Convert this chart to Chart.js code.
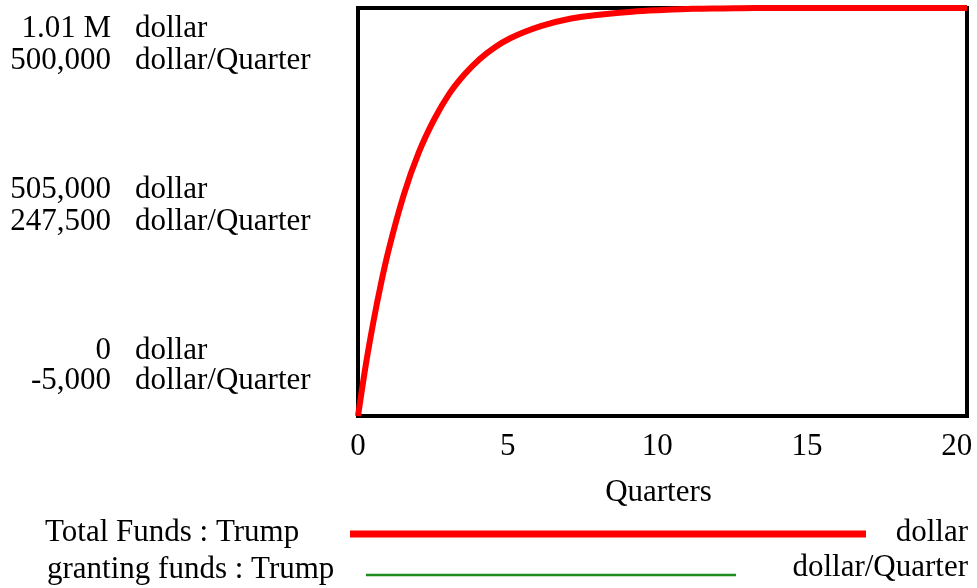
<!DOCTYPE html>
<html>
<head>
<meta charset="utf-8">
<script src="https://cdn.jsdelivr.net/npm/chart.js@4.4.1/dist/chart.umd.min.js"></script>
<style>
  html, body { margin: 0; padding: 0; background: #ffffff; }
  #wrap { position: relative; width: 977px; height: 588px; }
  canvas { display: block; }
</style>
</head>
<body>
<div id="wrap"><canvas id="c" width="977" height="588"></canvas></div>
<script>
// ---- data ----
const quarters = [0, 0.25, 0.5, 0.75, 1, 1.5, 2, 2.5, 3, 3.5, 4, 4.5, 5, 6, 7, 8, 9, 10, 11, 12, 13, 14, 15, 16, 17, 18, 19, 20];
const totalFunds = [0, 124000, 231000, 326000, 409000, 547000, 653000, 734000, 798000, 846000, 884000, 913000, 935000, 965000, 984000, 994000, 1001000, 1005000, 1008000, 1009000, 1010000, 1010000, 1010000, 1010000, 1010000, 1010000, 1010000, 1010000];
const grantingFunds = []; // not visible within the plotted range

const xTickValues = [0, 5, 10, 15, 20];
const dollarTickValues = [1010000, 505000, 0];
const dollarTickLabels = ["1.01 M", "505,000", "0"];
const rateTickValues = [500000, 247500, -5000];
const rateTickLabels = ["500,000", "247,500", "-5,000"];
const seriesNames = ["Total Funds : Trump", "granting funds : Trump"];
const seriesUnits = ["dollar", "dollar/Quarter"];
const xTitle = "Quarters";

const FONT = '"Liberation Serif", "Times New Roman", serif';

const frame = {
  id: 'frame',
  beforeDatasetsDraw(chart) {
    const { ctx, chartArea: a } = chart;
    ctx.save();
    ctx.strokeStyle = '#000';
    ctx.lineWidth = 4;
    ctx.strokeRect(a.left, a.top, a.right - a.left, a.bottom - a.top);
    ctx.restore();
  },
  afterDraw(chart) {
    const { ctx, chartArea: a } = chart;
    const xs = chart.scales.x, yd = chart.scales.y, yr = chart.scales.y2;
    ctx.save();
    ctx.fillStyle = '#000';
    ctx.font = '31px ' + FONT;
    ctx.textBaseline = 'middle';
    // left labels
    const offs = [[21, 53], [-22, 10], [-65, -35]];
    for (let i = 0; i < dollarTickValues.length; i++) {
      const p1 = yd.getPixelForValue(dollarTickValues[i]);
      const p2 = yr.getPixelForValue(rateTickValues[i]);
      ctx.textAlign = 'right';
      ctx.fillText(dollarTickLabels[i], 111, p1 + offs[i][0]);
      ctx.fillText(rateTickLabels[i], 111, p2 + offs[i][1]);
      ctx.textAlign = 'left';
      ctx.fillText(seriesUnits[0], 135, p1 + offs[i][0]);
      ctx.fillText(seriesUnits[1], 135, p2 + offs[i][1]);
    }
    // x ticks
    ctx.textAlign = 'center';
    xTickValues.forEach(v => {
      const px = xs.getPixelForValue(v);
      ctx.fillText(String(v), a.left + (px - a.left) * 0.983, a.bottom + 31);
    });
    ctx.fillText(xTitle, (a.left + a.right) / 2 - 4, a.bottom + 77);
    // legend
    ctx.textAlign = 'left';
    ctx.fillText(seriesNames[0], 45, 533);
    ctx.fillText(seriesNames[1], 47, 570);
    ctx.textAlign = 'right';
    ctx.fillText(seriesUnits[0], 968, 533);
    ctx.fillText(seriesUnits[1], 968, 568);
    ctx.strokeStyle = '#ff0000';
    ctx.lineWidth = 7;
    ctx.beginPath(); ctx.moveTo(350, 534); ctx.lineTo(866, 534); ctx.stroke();
    ctx.strokeStyle = '#1e8c1e';
    ctx.lineWidth = 2.5;
    ctx.beginPath(); ctx.moveTo(366, 575); ctx.lineTo(736, 575); ctx.stroke();
    ctx.restore();
  }
};

new Chart(document.getElementById('c'), {
  type: 'line',
  data: {
    datasets: [
      {
        label: seriesNames[0],
        data: quarters.map((q, i) => ({ x: q, y: totalFunds[i] })),
        borderColor: '#ff0000',
        borderWidth: 6,
        pointRadius: 0,
        cubicInterpolationMode: 'monotone',
        yAxisID: 'y',
        clip: false
      },
      {
        label: seriesNames[1],
        data: grantingFunds.map((v, i) => ({ x: quarters[i], y: v })),
        borderColor: '#1e8c1e',
        borderWidth: 2,
        pointRadius: 0,
        yAxisID: 'y2'
      }
    ]
  },
  options: {
    responsive: false,
    animation: false,
    layout: { padding: { left: 358, right: 10, top: 8, bottom: 172 } },
    plugins: { legend: { display: false }, tooltip: { enabled: false } },
    scales: {
      x: { type: 'linear', min: 0, max: 20, display: false },
      y: { min: 0, max: 1010000, display: false },
      y2: { min: -5000, max: 500000, display: false }
    }
  },
  plugins: [frame]
});
</script>
</body>
</html>
